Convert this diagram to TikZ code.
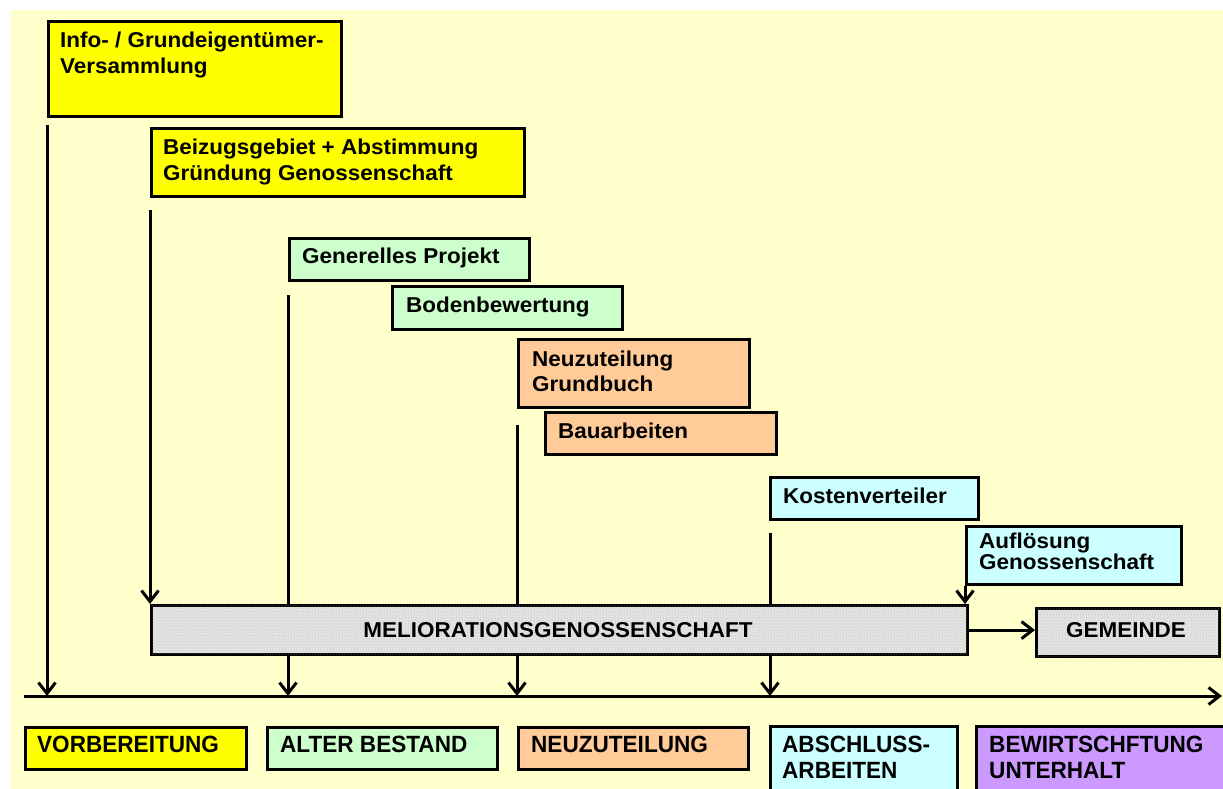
\documentclass[tikz,border=0pt]{standalone}
\usepackage{fontspec}
\setmainfont{Liberation Sans}
\newfontfamily\topfont{Liberation Sans}[FakeStretch=1.045]
\newfontfamily\botfont{Liberation Sans}[FakeStretch=0.96]
\usetikzlibrary{arrows.meta,patterns}
\definecolor{bgy}{HTML}{FFFFCC}
\definecolor{cyel}{HTML}{FFFF00}
\definecolor{cgrn}{HTML}{CCFFCC}
\definecolor{corg}{HTML}{FFCC99}
\definecolor{ccyn}{HTML}{CCFFFF}
\definecolor{cpur}{HTML}{CC99FF}
\definecolor{cgry}{HTML}{E2E2E2}
\tikzset{
  box/.style={draw=black, line width=3.2pt, rectangle, anchor=north west, inner sep=0pt},
  dotbox/.style={box, fill=cgry, postaction={pattern=dots, pattern color=gray!60}},
  txt/.style={anchor=base west, inner sep=0pt, font=\topfont\bfseries\fontsize{21.5}{26}\selectfont},
  ctxt/.style={anchor=base, inner sep=0pt, font=\topfont\bfseries\fontsize{21.5}{26}\selectfont},
  btxt/.style={anchor=base west, inner sep=0pt, font=\botfont\bfseries\fontsize{23.5}{26}\selectfont},
  ln/.style={line width=3pt, black},
  arr/.style={ln, -{Straight Barb[length=11pt,width=17pt]}}
}
\begin{document}
\begin{tikzpicture}[x=1pt,y=-1pt]
\clip (0,0) rectangle (1223,789);
\fill[white] (0,0) rectangle (1223,789);
\fill[bgy] (11,10) rectangle (1223,789);

% top boxes
\node[box, fill=cyel, minimum width=293pt, minimum height=95pt] (b1) at (47,20) {};
\node[txt] (t1a) at (60,48) {Info- / Grundeigentümer-};
\node[txt] (t1b) at (60,74) {Versammlung};

\node[box, fill=cyel, minimum width=373pt, minimum height=68pt] (b2) at (150,127) {};
\node[txt] (t2a) at (163,154) {Beizugsgebiet + Abstimmung};
\node[txt] (t2b) at (163,180) {Gründung Genossenschaft};

\node[box, fill=cgrn, minimum width=240pt, minimum height=42pt] (b3) at (288,237) {};
\node[txt] (t3) at (302,263) {Generelles Projekt};

\node[box, fill=cgrn, minimum width=230pt, minimum height=43pt] (b4) at (391,285) {};
\node[txt] (t4) at (406,312) {Bodenbewertung};

\node[box, fill=corg, minimum width=231pt, minimum height=68pt] (b5) at (517,338) {};
\node[txt] (t5a) at (532,366) {Neuzuteilung};
\node[txt] (t5b) at (532,391) {Grundbuch};

\node[box, fill=corg, minimum width=231pt, minimum height=42pt] (b6) at (544,411) {};
\node[txt] (t6) at (558,438) {Bauarbeiten};

\node[box, fill=ccyn, minimum width=208pt, minimum height=42pt] (b7) at (769,476) {};
\node[txt] (t7) at (783,503) {Kostenverteiler};

\node[box, fill=ccyn, minimum width=215pt, minimum height=58pt] (b8) at (965,525) {};
\node[txt] (t8a) at (979,548) {Auflösung};
\node[txt] (t8b) at (979,569) {Genossenschaft};

% bar and Gemeinde
\node[dotbox, minimum width=816pt, minimum height=49pt] (bar) at (150,604) {};
\node[ctxt] (tbar) at (558,637) {MELIORATIONSGENOSSENSCHAFT};
\node[dotbox, minimum width=183pt, minimum height=48pt] (gem) at (1035,607) {};
\node[ctxt] (tgem) at (1126,637) {GEMEINDE};

% axis
\coordinate (axL) at (24,696);
\coordinate (axR) at (1222,696);
\draw[arr] (axL) -- (axR);

% connectors
\draw[arr] ([yshift=-7pt]b1.south west) -- (b1.south west |- axL);
\draw[arr] ([yshift=-12pt]b2.south west) -- (b2.south west |- bar.north);
\draw[ln] ([yshift=-13pt]b3.south west) -- (b3.south west |- bar.north);
\draw[arr] (b3.south west |- bar.south) -- (b3.south west |- axL);
\draw[ln] ([yshift=-16pt]b5.south west) -- (b5.south west |- bar.north);
\draw[arr] (b5.south west |- bar.south) -- (b5.south west |- axL);
\draw[ln] ([xshift=1pt,yshift=-12pt]b7.south west) -- ([xshift=1pt]b7.south west |- bar.north);
\draw[arr] ([xshift=1pt]b7.south west |- bar.south) -- ([xshift=1pt]b7.south west |- axL);
\draw[arr] (b8.south west) -- (b8.south west |- bar.north);
\draw[arr] (bar.east) -- (bar.east -| gem.west);

% bottom phase boxes
\node[box, fill=cyel, minimum width=221pt, minimum height=42pt] (p1) at (24,726) {};
\node[btxt] (tp1) at (37,752) {VORBEREITUNG};
\node[box, fill=cgrn, minimum width=230pt, minimum height=42pt] (p2) at (266,726) {};
\node[btxt] (tp2) at (280,752) {ALTER BESTAND};
\node[box, fill=corg, minimum width=230pt, minimum height=42pt] (p3) at (517,726) {};
\node[btxt] (tp3) at (531,752) {NEUZUTEILUNG};
\node[box, fill=ccyn, minimum width=187pt, minimum height=80pt] (p4) at (769,725) {};
\node[btxt] (tp4a) at (782,752) {ABSCHLUSS-};
\node[btxt] (tp4b) at (782,778) {ARBEITEN};
\node[box, fill=cpur, minimum width=270pt, minimum height=80pt] (p5) at (975,725) {};
\node[btxt] (tp5a) at (989,752) {BEWIRTSCHFTUNG};
\node[btxt] (tp5b) at (989,778) {UNTERHALT};
\end{tikzpicture}
\end{document}
